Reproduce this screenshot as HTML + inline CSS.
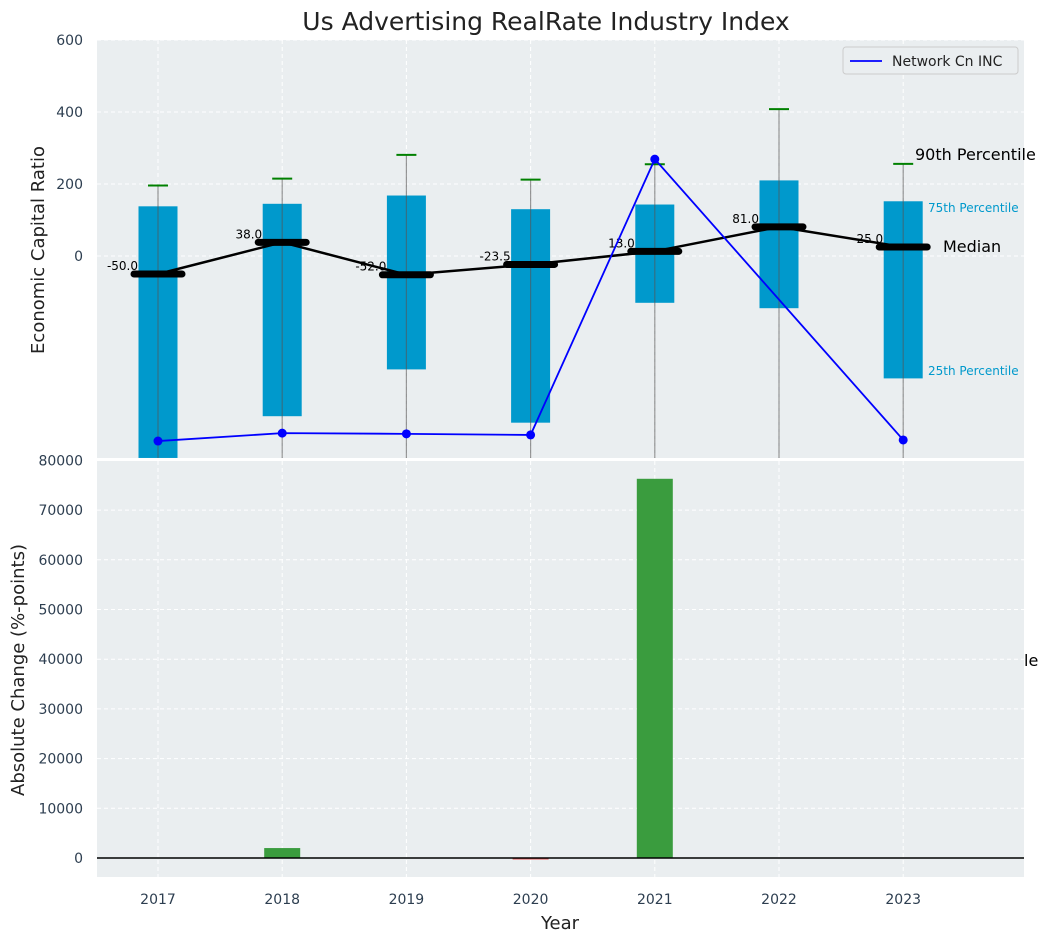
<!DOCTYPE html>
<html><head><meta charset="utf-8"><style>
body{margin:0;background:#fff;font-family:"Liberation Sans","DejaVu Sans",sans-serif}
</style></head><body>
<svg id="c" width="1050" height="942" xmlns="http://www.w3.org/2000/svg" font-family="DejaVu Sans, Liberation Sans, sans-serif">
<text x="546" y="30" text-anchor="middle" font-size="25" fill="#222">Us Advertising RealRate Industry Index</text>
<rect x="97" y="40" width="927" height="418" fill="#eaeef0"/>
<rect x="97" y="461" width="927" height="416" fill="#eaeef0"/>
<g id="gtop"></g><g id="gbot"></g>
<text x="44" y="250" transform="rotate(-90 44 250)" text-anchor="middle" font-size="18" fill="#222">Economic Capital Ratio</text>
<text x="24" y="670" transform="rotate(-90 24 670)" text-anchor="middle" font-size="18" fill="#222">Absolute Change (%-points)</text>
<text x="560" y="929" text-anchor="middle" font-size="18" fill="#222">Year</text>
<g>
<rect x="843" y="47" width="175" height="27" rx="3" fill="#eaeef0" stroke="#ccc"/>
<line x1="850" y1="61" x2="882" y2="61" stroke="blue" stroke-width="1.8"/>
<text x="892" y="66" font-size="14" fill="#222">Network Cn INC</text>
</g>
<text x="915" y="160" font-size="16" fill="#000">90th Percentile</text>
<text x="928" y="212" font-size="12" fill="#0099cc">75th Percentile</text>
<text x="943" y="252" font-size="16" fill="#000">Median</text>
<text x="928" y="375" font-size="12" fill="#0099cc">25th Percentile</text>
<text x="1024" y="666" font-size="16" fill="#000">le</text>
</svg>
<script>
const years=[2017,2018,2019,2020,2021,2022,2023];
const q75=[138,145,168,130,143,210,152];
const q25=[-561,-445,-315,-463,-130,-145,-340];
const p90=[196,215,281,212,255,408,256];
const medians=[-50,38,-52,-23.5,13,81,25];
const company=[-514,-492,-494,-497,269,null,-511];
const changes=[0,2000,0,-300,76300,0,0];
const topTicks=[0,200,400,600];
const botTicks=[0,10000,20000,30000,40000,50000,60000,70000,80000];
const NS="http://www.w3.org/2000/svg";
const xs=i=>158+i*124.2;
const yt=v=>256-v*0.36;
const yb=v=>858-v*0.00497;
function mk(p,t,a){const e=document.createElementNS(NS,t);for(const k in a)e.setAttribute(k,a[k]);p.appendChild(e);return e;}
const gTop=document.getElementById('gtop'),gBot=document.getElementById('gbot');
years.forEach((y,i)=>{
 let g=mk(gTop,'line',{x1:xs(i),x2:xs(i),y1:40,y2:458,stroke:'#fff','stroke-dasharray':'4 3'});
 
 g=mk(gBot,'line',{x1:xs(i),x2:xs(i),y1:461,y2:877,stroke:'#fff','stroke-dasharray':'4 3'});
 
 const t=mk(gBot,'text',{x:xs(i),y:904,'text-anchor':'middle','font-size':14,fill:'#2d3e50'});t.textContent=y;
 
});
topTicks.forEach(v=>{
 const g=mk(gTop,'line',{x1:97,x2:1024,y1:yt(v),y2:yt(v),stroke:'#fff','stroke-dasharray':'4 3'});
 
 const t=mk(gTop,'text',{x:83,y:yt(v)+5,'text-anchor':'end','font-size':14,fill:'#2d3e50'});t.textContent=v;
 
});
botTicks.forEach(v=>{
 const g=mk(gBot,'line',{x1:97,x2:1024,y1:yb(v),y2:yb(v),stroke:'#fff','stroke-dasharray':'4 3'});
 
 const t=mk(gBot,'text',{x:83,y:yb(v)+5,'text-anchor':'end','font-size':14,fill:'#2d3e50'});t.textContent=v;
 
});
years.forEach((y,i)=>{
 const x=xs(i);
 const r=mk(gTop,'rect',{x:x-19.5,y:yt(q75[i]),width:39,height:Math.min(yt(q25[i]),458)-yt(q75[i]),fill:'#0099cc'});
 
 const w=mk(gTop,'line',{x1:x,x2:x,y1:yt(p90[i]),y2:458,stroke:'#555','stroke-opacity':0.6,'stroke-width':1.2});
 
 const c=mk(gTop,'line',{x1:x-10,x2:x+10,y1:yt(p90[i]),y2:yt(p90[i]),stroke:'green','stroke-width':2});
 
});
const ml=mk(gTop,'polyline',{points:medians.map((m,i)=>xs(i)+','+yt(m)).join(' '),fill:'none',stroke:'#000','stroke-width':2.5});

medians.forEach((m,i)=>{
 const l=mk(gTop,'line',{x1:xs(i)-24,x2:xs(i)+24,y1:yt(m),y2:yt(m),stroke:'#000','stroke-width':7,'stroke-linecap':'round'});
 
 const t=mk(gTop,'text',{x:xs(i)-20,y:yt(m)-4,'text-anchor':'end','font-size':12,fill:'#000'});t.textContent=m.toFixed(1);
 
});
const pts=company.map((v,i)=>v===null?null:xs(i)+','+yt(v)).filter(p=>p);
const cl=mk(gTop,'polyline',{points:pts.join(' '),fill:'none',stroke:'blue','stroke-width':1.8});

company.forEach((v,i)=>{if(v===null)return;
 const d=mk(gTop,'circle',{cx:xs(i),cy:yt(v),r:4.5,fill:'blue'});
 
});
changes.forEach((v,i)=>{
 if(v===0)return;
 const y0=yb(0),y1=yb(v);
 const r=mk(gBot,'rect',{x:xs(i)-18,y:Math.min(y0,y1),width:36,height:Math.max(1.5,Math.abs(y1-y0)),fill:v>0?'#3a9c3e':'#e45050'});
 
});
const z=mk(gBot,'line',{x1:97,x2:1024,y1:yb(0),y2:yb(0),stroke:'#000','stroke-width':1.5});

</script>
</body></html>
